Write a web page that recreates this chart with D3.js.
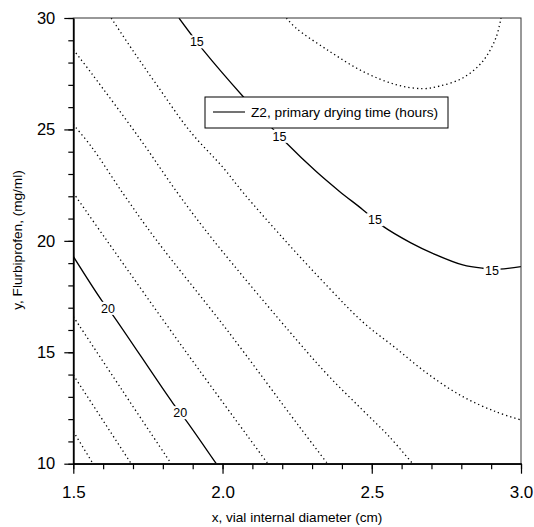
<!DOCTYPE html>
<html>
<head>
<meta charset="utf-8">
<script src="https://cdn.jsdelivr.net/npm/d3@7"></script>
<style>
    body { margin: 0; background: #fff; }
    svg { display: block; font-family: "Liberation Sans", Arial, sans-serif; }
</style>
</head>
<body>
<svg id="chart" width="534" height="527"></svg>
<script>
"use strict";

const xDomain = [1.5, 3.0];
const yDomain = [10, 30];
const xMajorTicks = [1.5, 2.0, 2.5, 3.0];
const yMajorTicks = [10, 15, 20, 25, 30];

// contour lines of Z2, points are [x (cm), y (mg/ml)]
const z14 = [[2.214, 30.0], [2.246, 29.55], [2.358, 28.51], [2.469, 27.61], [2.581, 27.01], [2.671, 26.83],
    [2.726, 26.94], [2.805, 27.31], [2.872, 28.06], [2.916, 29.11], [2.933, 30.0]];
const z15 = [[1.854, 30.0], [1.895, 29.26], [1.934, 28.58], [2.068, 26.49], [2.214, 24.39], [2.313, 23.12],
    [2.391, 22.23], [2.470, 21.40], [2.537, 20.66], [2.631, 19.91], [2.704, 19.44], [2.805, 18.92],
    [2.872, 18.77], [2.927, 18.73], [3.0, 18.84]];
const z16 = [[1.627, 30.0], [1.701, 28.51], [1.779, 27.01], [1.891, 24.92], [2.003, 23.27], [2.070, 22.15],
    [2.208, 20.04], [2.358, 17.87], [2.469, 16.37], [2.581, 15.18], [2.693, 13.98], [2.805, 13.01],
    [2.916, 12.33], [3.0, 11.96]];
const z17 = [[1.5, 28.58], [1.562, 27.5], [1.723, 24.58], [1.852, 22.1], [1.968, 20.05], [2.253, 15.48],
    [2.358, 13.90], [2.469, 12.41], [2.559, 11.21], [2.637, 10.0]];
const z18 = [[1.5, 25.22], [1.562, 24.2], [1.668, 22.1], [1.778, 20.04], [2.015, 16.0], [2.253, 11.74],
    [2.352, 10.0]];
const z19 = [[1.5, 22.15], [1.611, 20.04], [1.878, 15.01], [2.152, 10.0]];
const z20 = [[1.5, 19.3], [1.595, 17.33], [1.633, 16.66], [1.834, 12.71], [1.877, 11.96], [1.979, 10.0]];
const z21 = [[1.5, 16.60], [1.663, 13.31], [1.828, 10.0]];
const z22 = [[1.5, 13.98], [1.694, 10.0]];
const z23 = [[1.5, 11.45], [1.566, 10.0]];

const levels = [14, 15, 16, 17, 18, 19, 20, 21, 22, 23];
const lines = [z14, z15, z16, z17, z18, z19, z20, z21, z22, z23];

// where the inline level labels sit
const labels15 = [[1.914, 28.93], [2.191, 24.69], [2.511, 20.95], [2.903, 18.69]];
const labels20 = [[1.616, 16.97], [1.858, 12.29]];

const legendText = "Z2, primary drying time (hours)";
const xTitle = "x, vial internal diameter (cm)";
const yTitle = "y, Flurbiprofen, (mg/ml)";

const LEFT = 73.3, RIGHT = 521, TOP = 18, BOTTOM = 463.7;

const svg = d3.select("#chart");

const x = d3.scaleLinear().domain(xDomain).range([LEFT, RIGHT]);
const y = d3.scaleLinear().domain(yDomain).range([BOTTOM, TOP]);

svg.append("defs")
    .append("clipPath")
    .attr("id", "plot")
    .append("rect")
    .attr("x", LEFT)
    .attr("y", TOP)
    .attr("width", RIGHT - LEFT)
    .attr("height", BOTTOM - TOP);

const line = d3.line()
    .x(d => x(d[0]))
    .y(d => y(d[1]))
    .curve(d3.curveCatmullRom.alpha(0.5));

const contours = levels.map((level, i) => ({ level: level, points: lines[i] }));

svg.append("g")
    .attr("clip-path", "url(#plot)")
    .selectAll("path")
    .data(contours)
    .enter()
    .append("path")
    .attr("d", c => line(c.points))
    .attr("fill", "none")
    .attr("stroke", "#000")
    .attr("stroke-width", c => c.level % 5 === 0 ? 1.3 : 1.3)
    .attr("stroke-dasharray", c => c.level % 5 === 0 ? null : "1.3,3");

// level labels with a white patch that breaks the line
const labelData = labels15.map(p => ({ text: "15", p: p }))
    .concat(labels20.map(p => ({ text: "20", p: p })));

const labelG = svg.append("g")
    .selectAll("g")
    .data(labelData)
    .enter()
    .append("g")
    .attr("transform", d => `translate(${x(d.p[0])},${y(d.p[1])})`);

labelG.append("rect")
    .attr("x", -8.5)
    .attr("y", -6.5)
    .attr("width", 17)
    .attr("height", 13)
    .attr("fill", "#fff");

labelG.append("text")
    .attr("text-anchor", "middle")
    .attr("dy", "0.36em")
    .attr("font-size", 12.5)
    .attr("fill", "#000")
    .text(d => d.text);

// frame
svg.append("rect")
    .attr("x", LEFT)
    .attr("y", TOP)
    .attr("width", RIGHT - LEFT)
    .attr("height", BOTTOM - TOP)
    .attr("fill", "none")
    .attr("stroke", "#333")
    .attr("stroke-width", 1);

// axes: minor ticks first, then majors with labels
const xMinor = svg.append("g")
    .attr("transform", `translate(0,${BOTTOM})`)
    .call(d3.axisBottom(x).tickValues(x.ticks(15)).tickSize(5.5).tickFormat("").tickSizeOuter(0));

const xAxis = svg.append("g")
    .attr("transform", `translate(0,${BOTTOM})`)
    .call(d3.axisBottom(x).tickValues(xMajorTicks).tickSize(10).tickPadding(12)
        .tickFormat(d3.format(".1f")).tickSizeOuter(0));

const yMinor = svg.append("g")
    .attr("transform", `translate(${LEFT},0)`)
    .call(d3.axisLeft(y).tickValues(y.ticks(20)).tickSize(5).tickFormat("").tickSizeOuter(0));

const yAxis = svg.append("g")
    .attr("transform", `translate(${LEFT},0)`)
    .call(d3.axisLeft(y).tickValues(yMajorTicks).tickSize(9).tickPadding(9)
        .tickFormat(d3.format("d")).tickSizeOuter(0));

[xMinor, xAxis, yMinor, yAxis].forEach(g => {
    g.selectAll("path").attr("stroke", "#000").attr("stroke-width", 1.3);
    g.selectAll("line").attr("stroke", "#000").attr("stroke-width", 1.2);
});
xAxis.selectAll("text").attr("font-size", 17).attr("fill", "#000").attr("font-family", null);
yAxis.selectAll("text").attr("font-size", 16.5).attr("fill", "#000").attr("font-family", null);

// axis titles
svg.append("text")
    .attr("x", 297)
    .attr("y", 522)
    .attr("text-anchor", "middle")
    .attr("font-size", 13.6)
    .text(xTitle);

svg.append("text")
    .attr("transform", "translate(22,240) rotate(-90)")
    .attr("text-anchor", "middle")
    .attr("font-size", 13.6)
    .text(yTitle);

// legend
const legend = svg.append("g");

legend.append("rect")
    .attr("x", 205)
    .attr("y", 97)
    .attr("width", 243)
    .attr("height", 31)
    .attr("fill", "#fff")
    .attr("stroke", "#000")
    .attr("stroke-width", 1);

legend.append("line")
    .attr("x1", 213)
    .attr("x2", 245)
    .attr("y1", 112)
    .attr("y2", 112)
    .attr("stroke", "#000")
    .attr("stroke-width", 1.1);

legend.append("text")
    .attr("x", 251)
    .attr("y", 117)
    .attr("font-size", 13.7)
    .text(legendText);
</script>
</body>
</html>
